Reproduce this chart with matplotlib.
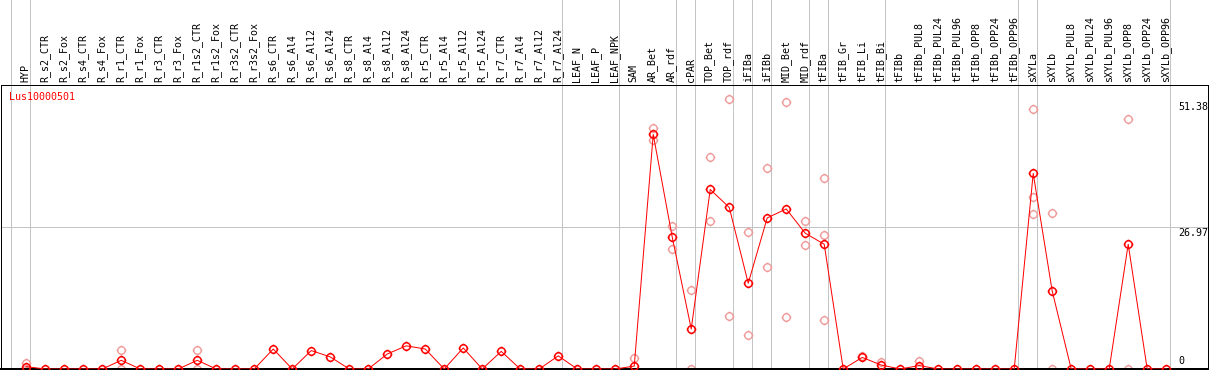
import matplotlib
matplotlib.use("Agg")
import matplotlib.pyplot as plt
import numpy as np
from matplotlib.path import Path

categories = [
    "HYP", "R_s2_CTR", "R_s2_Fox", "R_s4_CTR", "R_s4_Fox", "R_r1_CTR", "R_r1_Fox",
    "R_r3_CTR", "R_r3_Fox", "R_r1s2_CTR", "R_r1s2_Fox", "R_r3s2_CTR", "R_r3s2_Fox",
    "R_s6_CTR", "R_s6_Al4", "R_s6_Al12", "R_s6_Al24", "R_s8_CTR", "R_s8_Al4",
    "R_s8_Al12", "R_s8_Al24", "R_r5_CTR", "R_r5_Al4", "R_r5_Al12", "R_r5_Al24",
    "R_r7_CTR", "R_r7_Al4", "R_r7_Al12", "R_r7_Al24", "LEAF_N", "LEAF_P", "LEAF_NPK",
    "SAM", "AR_Bet", "AR_rdf", "cPAR", "TOP_Bet", "TOP_rdf", "iFIBa", "iFIBb",
    "MID_Bet", "MID_rdf", "tFIBa", "tFIB_Gr", "tFIB_Li", "tFIB_Bi", "tFIBb",
    "tFIBb_PUL8", "tFIBb_PUL24", "tFIBb_PUL96", "tFIBb_OPP8", "tFIBb_OPP24",
    "tFIBb_OPP96", "sXYLa", "sXYLb", "sXYLb_PUL8", "sXYLb_PUL24", "sXYLb_PUL96",
    "sXYLb_OPP8", "sXYLb_OPP24", "sXYLb_OPP96",
]

means = [
    0.45, 0, 0, 0, 0, 1.65, 0, 0, 0, 1.65, 0, 0, 0,
    3.8, 0, 3.5, 2.3, 0, 0, 2.85, 4.4, 3.8, 0, 4.0, 0,
    3.35, 0, 0, 2.5, 0, 0, 0,
    0.55, 44.55, 25.06, 7.6, 34.1, 30.7, 16.3, 28.7,
    30.4, 25.8, 23.7, 0, 2.2, 0.75, 0,
    0.65, 0, 0, 0, 0, 0,
    37.15, 14.8, 0, 0, 0, 23.7, 0, 0,
]

rep_categories = [
    "HYP", "HYP", "R_r1_CTR", "R_r1_CTR", "R_r1s2_CTR", "R_r1s2_CTR", "SAM",
    "AR_Bet", "AR_Bet", "AR_rdf", "AR_rdf", "cPAR", "cPAR", "TOP_Bet", "TOP_Bet",
    "TOP_rdf", "TOP_rdf", "iFIBa", "iFIBa", "iFIBb", "iFIBb", "MID_Bet", "MID_Bet",
    "MID_rdf", "MID_rdf", "tFIBa", "tFIBa", "tFIBa", "tFIB_Li", "tFIB_Bi",
    "tFIBb_PUL8", "sXYLa", "sXYLa", "sXYLa", "sXYLb", "sXYLb", "sXYLb_OPP8", "sXYLb_OPP8",
]
rep_values = [
    1.1, 0, 3.6, 0, 3.6, 0, 2.1,
    45.7, 43.5, 27.15, 22.8, 15.1, 0, 40.2, 28.1,
    51.38, 10.0, 26.1, 6.4, 38.1, 19.4, 50.8, 9.8,
    28.2, 23.5, 36.2, 25.4, 9.3, 2.5, 1.3,
    1.45, 49.3, 32.6, 29.4, 29.6, 0, 47.4, 0,
]

y_tick_values = [0, 26.97, 51.38]
y_tick_labels = ["0", "26.97", "51.38"]
separator_after = [-1, 0, 28, 31, 34, 35, 37, 38, 39, 41, 42, 45, 52, 53, 60]
title = "Lus10000501"

W, H = 1209, 370
fig = plt.figure(figsize=(W / 100, H / 100), dpi=100)
ax = fig.add_axes([1 / W, 1 / H, 1207 / W, 284 / H])

mono = "DejaVu Sans Mono"
fs = 7.2
px = 0.72  # one pixel in points

# circle marker with four small stubs (like the reference's pixel circles)
t = np.linspace(0, 2 * np.pi, 33)
verts = [(np.cos(a), np.sin(a)) for a in t]
codes = [Path.MOVETO] + [Path.LINETO] * (len(t) - 1)
for dx, dy in [(1, 0), (-1, 0), (0, 1), (0, -1)]:
    verts += [(dx, dy), (1.3 * dx, 1.3 * dy)]
    codes += [Path.MOVETO, Path.LINETO]
ring = Path(verts, codes)

xs = list(range(len(categories)))
ymax = max(y_tick_values) * 1.05
ax.set_xlim(-1.33, 62.2)
ax.set_ylim(0, ymax)

# separators (extend into label area)
top_ext = 369 / 284
for s in separator_after:
    ax.axvline(s + 0.21, ymin=0, ymax=top_ext, color="#c4c4c4", lw=px, clip_on=False, zorder=1)
ax.axhline(y_tick_values[1], color="#c4c4c4", lw=px, zorder=1)

# replicates
idx = {c: i for i, c in enumerate(categories)}
rx = [idx[c] for c in rep_categories]
ax.plot(rx, rep_values, linestyle="none", marker=ring, markersize=7.0, mfc="none",
        mec="#f09a9a", mew=1.0, zorder=2)

# means
ax.plot(xs, means, color="red", lw=px, zorder=3)
ax.plot(xs, means, linestyle="none", marker=ring, markersize=7.0, mfc="none",
        mec="red", mew=1.1, zorder=4)

for sp in ax.spines.values():
    sp.set_color("black")
    sp.set_linewidth(px)
ax.spines["bottom"].set_linewidth(2 * px)
ax.set_xticks([])
ax.set_yticks([])

# category labels
for i, c in enumerate(categories):
    ax.annotate(c, xy=(i, 1), xycoords=("data", "axes fraction"), xytext=(-0.3, 2.2),
                textcoords="offset points", rotation=90, ha="center", va="bottom",
                fontsize=fs, family=mono, color="black", annotation_clip=False)

# y labels at right, inside
xfrac = (1178 - 1) / 1207
ax.annotate(y_tick_labels[2], xy=(xfrac, y_tick_values[2]), xycoords=("axes fraction", "data"),
            xytext=(0, -2.5), textcoords="offset points", ha="left", va="top",
            fontsize=fs, family=mono)
ax.annotate(y_tick_labels[1], xy=(xfrac, y_tick_values[1]), xycoords=("axes fraction", "data"),
            xytext=(0, -0.5), textcoords="offset points", ha="left", va="top",
            fontsize=fs, family=mono)
ax.annotate(y_tick_labels[0], xy=(xfrac, y_tick_values[0]), xycoords=("axes fraction", "data"),
            xytext=(0, 2.5), textcoords="offset points", ha="left", va="bottom",
            fontsize=fs, family=mono)

# title
ax.annotate(title, xy=(0, 1), xycoords="axes fraction", xytext=(5.5, -8.5),
            textcoords="offset points", ha="left", va="center", fontsize=fs,
            family=mono, color="red")

fig.savefig("out.png", dpi=100)
